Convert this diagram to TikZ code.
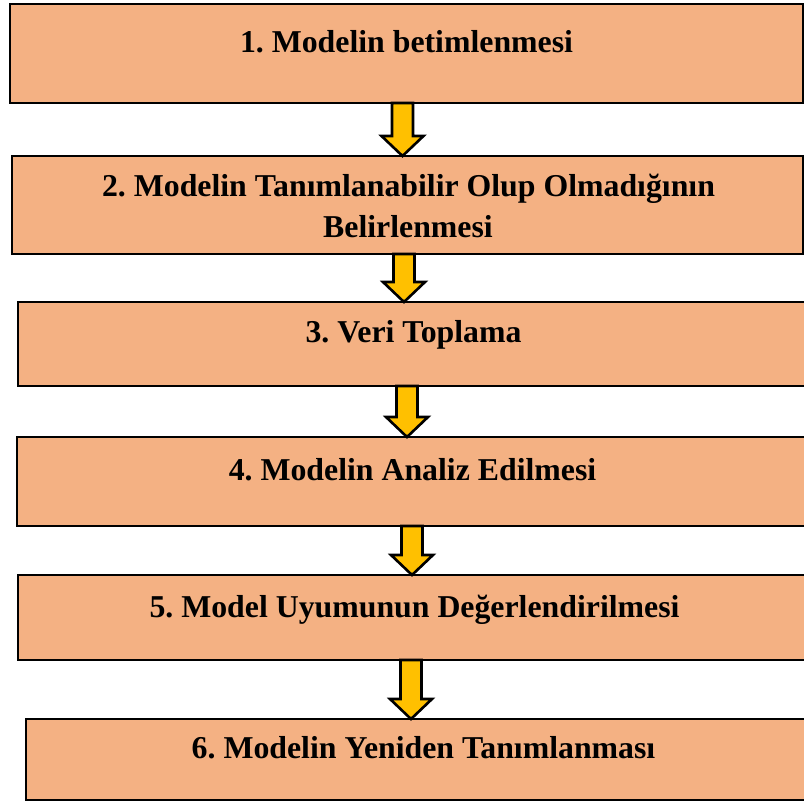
\documentclass[tikz,border=0pt]{standalone}
\usepackage{fontspec}
\setmainfont{Liberation Serif}
\frenchspacing
\usetikzlibrary{calc}
\definecolor{boxfill}{HTML}{F4B183}
\definecolor{arrowfill}{HTML}{FFC000}
\tikzset{
  box/.style={draw=black, line width=2.6pt, fill=boxfill, rectangle, inner sep=0pt, outer sep=0pt},
  label/.style={anchor=base, inner sep=0pt, font=\bfseries\fontsize{31.8}{41}\selectfont},
  blockarrow/.style={draw=black, line width=2.6pt, fill=arrowfill, line join=miter}
}
\newcommand{\blockarr}[3]{% #1 x, #2 from node, #3 to node
  \path (#1,0 |- #2.south) coordinate (s) (#1,0 |- #3.north) coordinate (e);
  \draw[blockarrow] ($(s)+(-10.5,0)$) -- ($(e)+(-10.5,-20)$) -- ($(e)+(-21,-20)$) -- (e)
    -- ($(e)+(21,-20)$) -- ($(e)+(10.5,-20)$) -- ($(s)+(10.5,0)$) -- cycle;
}
\begin{document}
\begin{tikzpicture}[x=1pt,y=-1pt]
\useasboundingbox (0,0) rectangle (804,802);
\clip (0,0) rectangle (804,802);
\fill[white] (0,0) rectangle (804,802);
% boxes
\node[box, minimum width=793pt, minimum height=99pt] (b1) at (406.5,53.5) {};
\node[box, minimum width=791pt, minimum height=98pt] (b2) at (407.5,205) {};
\node[box, minimum width=797pt, minimum height=84pt] (b3) at (416.5,344) {};
\node[box, minimum width=798pt, minimum height=89pt] (b4) at (416,481.5) {};
\node[box, minimum width=797pt, minimum height=85pt] (b5) at (416.5,617.5) {};
\node[box, minimum width=789pt, minimum height=81pt] (b6) at (420.5,759.5) {};
% texts
\node[label] (t1) at (406.5,53) {1. Modelin betimlenmesi};
\node[label] (t2a) at (408.5,197) {2. Modelin Tanımlanabilir Olup Olmadığının};
\node[label] (t2b) at (408,238) {Belirlenmesi};
\node[label] (t3) at (413.5,343) {3. Veri Toplama};
\node[label] (t4) at (412.5,480) {4. Modelin Analiz Edilmesi};
\node[label] (t5) at (414.5,617) {5. Model Uyumunun Değerlendirilmesi};
\node[label] (t6) at (423.5,758) {6. Modelin Yeniden Tanımlanması};
% arrows
\blockarr{402.5}{b1}{b2}
\blockarr{404}{b2}{b3}
\blockarr{407}{b3}{b4}
\blockarr{412}{b4}{b5}
\blockarr{411}{b5}{b6}
\end{tikzpicture}
\end{document}
